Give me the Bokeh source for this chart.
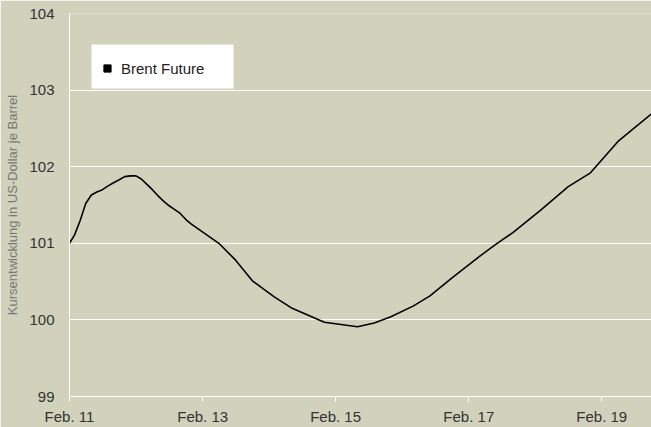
import pandas as pd
from bokeh.plotting import figure
from bokeh.models import (Range1d, FixedTicker, DatetimeTickFormatter, Legend,
                          LegendItem, BoxAnnotation)
from bokeh.embed import file_html
from bokeh.resources import INLINE

# ---- data ----
dates = [
    "2011-02-01", "2011-03-01", "2011-04-01", "2011-05-01", "2011-06-01",
    "2011-07-01", "2011-08-01", "2011-09-01", "2011-10-01", "2011-11-01",
    "2011-12-01", "2012-01-01", "2012-02-01", "2012-03-01", "2012-04-01",
    "2012-05-01", "2012-06-01", "2012-07-01", "2012-08-01", "2012-09-01",
    "2012-10-01", "2012-11-01", "2012-12-01", "2013-05-01", "2013-08-01",
    "2013-11-01", "2014-03-01", "2014-06-01", "2014-12-01", "2015-06-01",
    "2015-09-01", "2015-12-01", "2016-04-01", "2016-07-01", "2016-11-01",
    "2017-04-01", "2017-07-01", "2017-10-01", "2018-03-01", "2018-08-01",
    "2018-12-01", "2019-05-01", "2019-11-01",
]
prices = [
    101.00, 101.11, 101.30, 101.52, 101.63,
    101.67, 101.70, 101.75, 101.79, 101.83,
    101.87, 101.88, 101.88, 101.84, 101.77,
    101.70, 101.62, 101.55, 101.49, 101.44,
    101.39, 101.31, 101.25, 101.00, 100.78,
    100.51, 100.30, 100.16, 99.97, 99.91,
    99.96, 100.04, 100.18, 100.31, 100.55,
    100.83, 100.99, 101.14, 101.43, 101.74,
    101.92, 102.33, 102.69,
]
x_tick_dates = ["2011-02-01", "2013-02-01", "2015-02-01", "2017-02-01", "2019-02-01"]
y_ticks = [99, 100, 101, 102, 103, 104]
x_start, x_end = "2011-02-01", "2019-11-01"
series_name = "Brent Future"
y_label = "Kursentwicklung in US-Dollar je Barrel"

BG = "#d2d1bb"
FONT = "Liberation Sans"

x = pd.to_datetime(dates)

p = figure(width=651, height=427, x_axis_type="datetime",
           output_backend="svg", toolbar_location=None,
           x_range=Range1d(pd.Timestamp(x_start), pd.Timestamp(x_end)),
           y_range=Range1d(99, 104),
           min_border_left=69, min_border_right=0,
           min_border_top=13, min_border_bottom=30)
p.background_fill_color = BG
p.border_fill_color = BG
p.outline_line_color = None

p.line(x, prices, line_color="black", line_width=1.6)

# white legend panel (screen units, relative to the plot frame, bottom-up)
panel = BoxAnnotation(left=22, right=164, bottom=308, top=352,
                      left_units="screen", right_units="screen",
                      bottom_units="screen", top_units="screen",
                      fill_color="white", fill_alpha=1.0, line_color=None,
                      level="overlay")
p.add_layout(panel)

# legend proxy: square markers of the series on a range far outside the view
p.extra_y_ranges = {"legend_proxy": Range1d(1000, 1001)}
sq = p.scatter(x, prices, marker="square", size=7, color="black",
               y_range_name="legend_proxy")
legend = Legend(items=[LegendItem(label=series_name, renderers=[sq])],
                location=(29, 319), margin=0, padding=0,
                background_fill_alpha=0.0, border_line_color=None,
                glyph_width=18, glyph_height=18, label_height=18,
                label_standoff=5,
                label_text_font=FONT, label_text_font_size="15px",
                label_text_color="#222222")
p.add_layout(legend)

# grids
p.xgrid.grid_line_color = None
p.ygrid.grid_line_color = "white"
p.ygrid.grid_line_width = 1

# y axis
p.yaxis.ticker = FixedTicker(ticks=y_ticks)
p.yaxis.axis_line_color = "white"
p.yaxis.major_tick_line_color = None
p.yaxis.major_tick_out = 0
p.yaxis.major_tick_in = 0
p.yaxis.minor_tick_line_color = None
p.yaxis.major_label_standoff = 15
p.yaxis.major_label_text_font = FONT
p.yaxis.major_label_text_font_size = "15px"
p.yaxis.major_label_text_color = "#333333"
p.yaxis.axis_label = y_label
p.yaxis.axis_label_text_font = FONT
p.yaxis.axis_label_text_font_size = "13px"
p.yaxis.axis_label_text_font_style = "normal"
p.yaxis.axis_label_text_color = "#777777"
p.yaxis.axis_label_standoff = 6

# x axis
p.xaxis.ticker = FixedTicker(ticks=[pd.Timestamp(d).timestamp() * 1000 for d in x_tick_dates])
fmt = "%b. %y"
p.xaxis.formatter = DatetimeTickFormatter(
    milliseconds=fmt, seconds=fmt, minsec=fmt, minutes=fmt, hourmin=fmt,
    hours=fmt, days=fmt, months=fmt, years=fmt)
p.xaxis.axis_line_color = "white"
p.xaxis.major_tick_line_color = "white"
p.xaxis.major_tick_out = 5
p.xaxis.major_tick_in = 0
p.xaxis.minor_tick_line_color = None
p.xaxis.major_label_standoff = 6
p.xaxis.major_label_text_font = FONT
p.xaxis.major_label_text_font_size = "15px"
p.xaxis.major_label_text_color = "#333333"

open("out.html", "w").write(file_html(p, INLINE))
